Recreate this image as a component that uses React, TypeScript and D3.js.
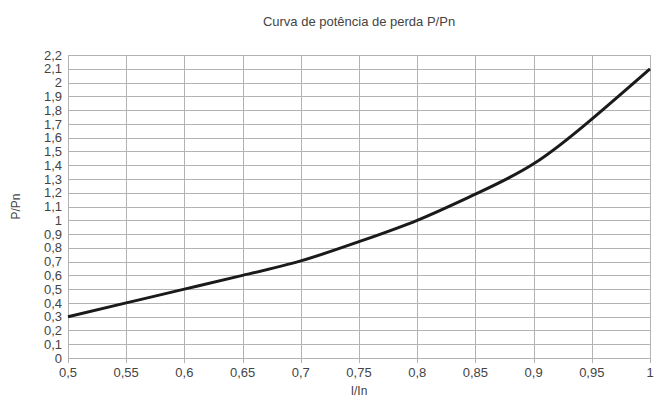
import React, { useEffect, useRef } from "react";
import * as d3 from "d3";

// curve
const ratioI = [0.5, 0.55, 0.6, 0.65, 0.7, 0.75, 0.8, 0.85, 0.9, 0.95, 1];
const ratioP = [0.3, 0.4, 0.5, 0.6, 0.705, 0.845, 1.0, 1.19, 1.41, 1.735, 2.1];
const xTicks = [0.5, 0.55, 0.6, 0.65, 0.7, 0.75, 0.8, 0.85, 0.9, 0.95, 1];
const yTicks = d3.range(0, 23).map((i) => i / 10);

const title = "Curva de potência de perda P/Pn";
const xLabel = "I/In";
const yLabel = "P/Pn";

const fmt = (v: number) => String(+v.toFixed(2)).replace(".", ",");

export default function App() {
  const ref = useRef<SVGSVGElement>(null);

  useEffect(() => {
    const W = 654, H = 405;
    const margin = { top: 55, right: 4, bottom: 47, left: 68 };
    const w = W - margin.left - margin.right;
    const h = H - margin.top - margin.bottom;

    const svg = d3.select(ref.current);
    svg.selectAll("*").remove();
    svg.attr("width", W).attr("height", H);

    const g = svg.append("g").attr("transform", `translate(${margin.left},${margin.top})`);

    const x = d3.scaleLinear().domain([0.5, 1]).range([0, w]);
    const y = d3.scaleLinear().domain([0, 2.2]).range([h, 0]);

    const font = "'Liberation Sans', Arial, sans-serif";
    const txt = "#444";

    // horizontal grid
    g.selectAll(".hgrid")
      .data(yTicks)
      .join("line")
      .attr("class", "hgrid")
      .attr("x1", 0)
      .attr("x2", w)
      .attr("y1", (d) => Math.round(y(d)) + 0.5)
      .attr("y2", (d) => Math.round(y(d)) + 0.5)
      .attr("stroke", "#b3b3b3")
      .attr("stroke-width", 1);

    // vertical grid
    g.selectAll(".vgrid")
      .data(xTicks)
      .join("line")
      .attr("class", "vgrid")
      .attr("x1", (d) => Math.round(x(d)) + 0.5)
      .attr("x2", (d) => Math.round(x(d)) + 0.5)
      .attr("y1", 0)
      .attr("y2", h + 5)
      .attr("stroke", "#b3b3b3")
      .attr("stroke-width", 1);

    // y tick labels
    g.selectAll(".ylab")
      .data(yTicks)
      .join("text")
      .attr("class", "ylab")
      .attr("x", -6)
      .attr("y", (d) => y(d))
      .attr("dy", "0.36em")
      .attr("text-anchor", "end")
      .style("font-family", font)
      .style("font-size", "13px")
      .attr("fill", txt)
      .text((d) => fmt(d));

    // x tick labels
    g.selectAll(".xlab")
      .data(xTicks)
      .join("text")
      .attr("class", "xlab")
      .attr("x", (d) => x(d))
      .attr("y", h + 19)
      .attr("text-anchor", "middle")
      .style("font-family", font)
      .style("font-size", "13px")
      .attr("fill", txt)
      .text((d) => fmt(d));

    const pts = ratioI.map((v, i) => [v, ratioP[i]] as [number, number]);
    const line = d3
      .line<[number, number]>()
      .x((d) => x(d[0]))
      .y((d) => y(d[1]))
      .curve(d3.curveNatural);

    g.append("path")
      .datum(pts)
      .attr("d", line)
      .attr("fill", "none")
      .attr("stroke", "#1a1a1a")
      .attr("stroke-width", 3);

    svg.append("text")
      .attr("x", margin.left + w / 2)
      .attr("y", 26)
      .attr("text-anchor", "middle")
      .style("font-family", font)
      .style("font-size", "13px")
      .attr("fill", txt)
      .text(title);

    svg.append("text")
      .attr("x", margin.left + w / 2)
      .attr("y", 395)
      .attr("text-anchor", "middle")
      .style("font-family", font)
      .style("font-size", "12px")
      .attr("fill", txt)
      .text(xLabel);

    svg.append("text")
      .attr("transform", `translate(20,${margin.top + h / 2}) rotate(-90)`)
      .attr("text-anchor", "middle")
      .style("font-family", font)
      .style("font-size", "12px")
      .attr("fill", txt)
      .text(yLabel);
  }, []);

  return <svg ref={ref} style={{ position: "absolute", left: 0, top: 0 }} />;
}
